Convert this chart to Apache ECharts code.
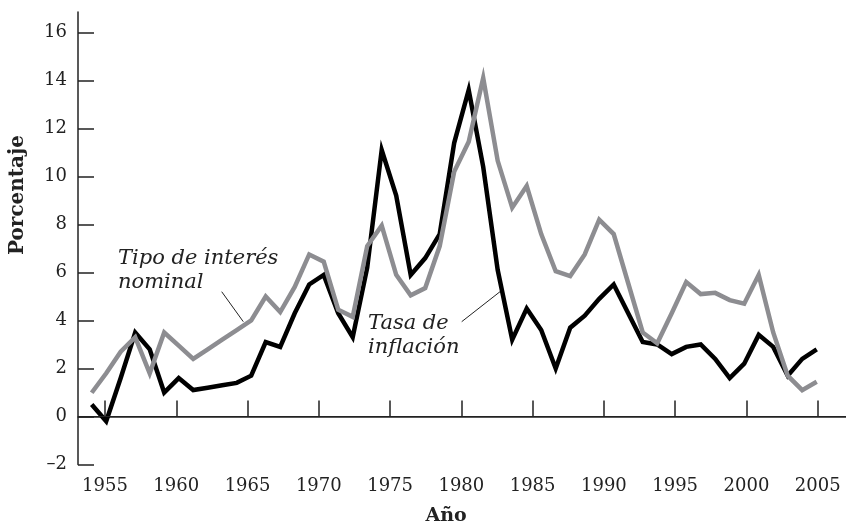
<!DOCTYPE html>
<html>
<head>
<meta charset="utf-8">
<script src="https://cdn.jsdelivr.net/npm/echarts@6/dist/echarts.min.js"></script>
<style>
html, body { margin: 0; padding: 0; background: #fff; }
#chart { width: 846px; height: 526px; }
</style>
</head>
<body>
<div id="chart"></div>
<script>
// datos anuales 1954-2004
var anios = [1954, 1955, 1956, 1957, 1958, 1959, 1960, 1961, 1962, 1963,
             1964, 1965, 1966, 1967, 1968, 1969, 1970, 1971, 1972, 1973,
             1974, 1975, 1976, 1977, 1978, 1979, 1980, 1981, 1982, 1983,
             1984, 1985, 1986, 1987, 1988, 1989, 1990, 1991, 1992, 1993,
             1994, 1995, 1996, 1997, 1998, 1999, 2000, 2001, 2002, 2003,
             2004];
var inflacion = [0.5, -0.2, 1.6, 3.5, 2.8, 1.0, 1.6, 1.1, 1.2, 1.3,
                 1.4, 1.7, 3.1, 2.9, 4.3, 5.5, 5.9, 4.3, 3.3, 6.2,
                 11.1, 9.2, 5.9, 6.6, 7.6, 11.4, 13.6, 10.4, 6.1, 3.2,
                 4.5, 3.6, 2.0, 3.7, 4.2, 4.9, 5.5, 4.3, 3.1, 3.0,
                 2.6, 2.9, 3.0, 2.4, 1.6, 2.2, 3.4, 2.9, 1.7, 2.4,
                 2.8];
var interes = [0.99, 1.8, 2.7, 3.3, 1.8, 3.5, 2.95, 2.4, 2.8, 3.2,
               3.6, 4.0, 5.0, 4.35, 5.4, 6.75, 6.45, 4.45, 4.15, 7.1,
               7.95, 5.9, 5.05, 5.35, 7.1, 10.2, 11.45, 14.1, 10.65, 8.7,
               9.6, 7.6, 6.05, 5.85, 6.75, 8.2, 7.6, 5.55, 3.5, 3.05,
               4.3, 5.6, 5.1, 5.15, 4.85, 4.7, 5.9, 3.5, 1.7, 1.1,
               1.45];
var xTicks = [1955, 1960, 1965, 1970, 1975, 1980, 1985, 1990, 1995, 2000, 2005];
var yTicks = [-2, 0, 2, 4, 6, 8, 10, 12, 14, 16];

var fuente = 'DejaVu Serif';
var texto = '#222';

var chart = echarts.init(document.getElementById('chart'));

var option = {
    animation: false,
    grid: { left: 78, right: 0, top: 12, bottom: 61.5, containLabel: false },
    xAxis: [
        {
            type: 'value',
            min: 1953.106,
            max: 2006.985,
            axisLine: { show: true, lineStyle: { color: texto, width: 1.5 } },
            axisTick: { show: true, inside: true, length: 16, customValues: xTicks, lineStyle: { color: texto, width: 1.5 } },
            axisLabel: {
                customValues: xTicks, color: texto, fontFamily: fuente, fontSize: 18, margin: 13,
                formatter: function (v) { return String(v); }
            },
            splitLine: { show: false }
        },
        {
            // eje oculto para colocar los puntos anuales
            type: 'value',
            min: 1953.055,
            max: 2006.02,
            show: false
        }
    ],
    yAxis: {
        type: 'value',
        min: -2,
        max: 16.85,
        axisLine: { show: true, lineStyle: { color: texto, width: 1.5 } },
        axisTick: { show: true, inside: true, length: 16, customValues: yTicks, lineStyle: { color: texto, width: 1.5 } },
        axisLabel: {
            customValues: yTicks, color: texto, fontFamily: fuente, fontSize: 18, margin: 11,
            formatter: function (v) { return v < 0 ? '\u2013' + Math.abs(v) : String(v); }
        },
        splitLine: { show: false }
    },
    series: [
        {
            name: 'Tasa de inflación',
            type: 'line',
            xAxisIndex: 1,
            data: anios.map(function (a, i) { return [a, inflacion[i]]; }),
            showSymbol: false,
            lineStyle: { color: '#000', width: 4.5, join: 'miter' },
            markLine: {
                silent: true,
                symbol: 'none',
                label: { show: false },
                lineStyle: { color: texto, width: 1, type: 'solid' },
                data: [{ yAxis: 0 }]
            }
        },
        {
            name: 'Tipo de interés nominal',
            type: 'line',
            xAxisIndex: 1,
            data: anios.map(function (a, i) { return [a, interes[i]]; }),
            showSymbol: false,
            lineStyle: { color: '#8d8d91', width: 4.5, join: 'miter' }
        }
    ],
    graphic: [
        {
            type: 'text', left: 118, top: 247,
            style: { text: 'Tipo de interés\nnominal', font: 'italic 21px "DejaVu Serif"', fill: texto, lineHeight: 24 }
        },
        {
            type: 'line', shape: { x1: 221.7, y1: 291.7, x2: 243.3, y2: 321.7 },
            style: { stroke: texto, lineWidth: 1 }
        },
        {
            type: 'text', left: 368, top: 312,
            style: { text: 'Tasa de\ninflación', font: 'italic 21px "DejaVu Serif"', fill: texto, lineHeight: 24 }
        },
        {
            type: 'line', shape: { x1: 461.7, y1: 321.7, x2: 500, y2: 291.7 },
            style: { stroke: texto, lineWidth: 1 }
        },
        {
            type: 'text', x: 18, y: 195, rotation: Math.PI / 2,
            style: { text: 'Porcentaje', font: 'bold 20px "DejaVu Serif"', fill: texto, align: 'center', verticalAlign: 'middle' }
        },
        {
            type: 'text', x: 446, y: 516,
            style: { text: 'Año', font: 'bold 19px "DejaVu Serif"', fill: texto, align: 'center', verticalAlign: 'middle' }
        }
    ]
};

chart.setOption(option);
</script>
</body>
</html>
